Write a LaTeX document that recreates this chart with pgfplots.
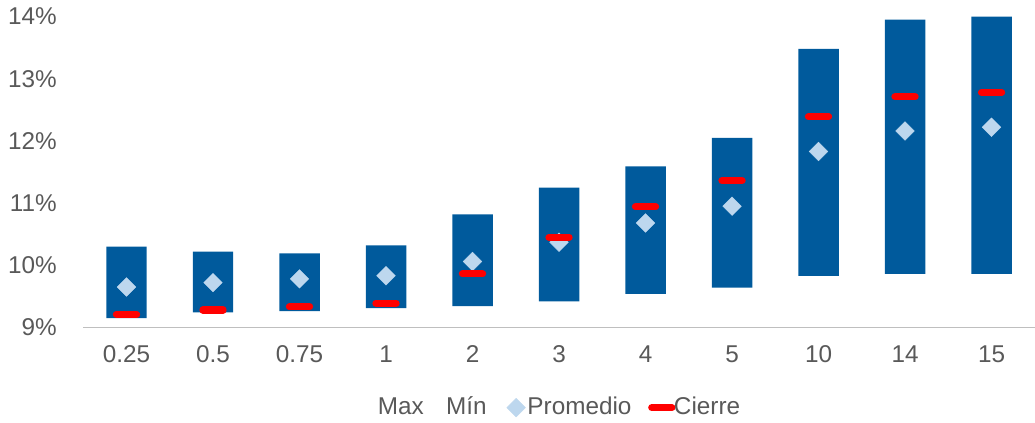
\documentclass[border=0pt]{standalone}
\usepackage{pgfplots}
\usepackage{pgfplotstable}
\pgfplotsset{compat=1.18}
\usepackage{fontspec}
\setmainfont{Liberation Sans}
\definecolor{barblue}{HTML}{005A9C}
\definecolor{diam}{HTML}{BDD7EE}
\definecolor{txt}{HTML}{595959}
\pgfplotstableread{
x min max prom cierre
0 9.15 10.30 9.65 9.21
1 9.24 10.22 9.72 9.28
2 9.26 10.19 9.78 9.33
3 9.31 10.32 9.83 9.39
4 9.34 10.82 10.06 9.86
5 9.42 11.25 10.37 10.45
6 9.54 11.59 10.68 10.94
7 9.64 12.05 10.95 11.36
8 9.83 13.48 11.83 12.39
9 9.86 13.95 12.16 12.71
10 9.86 14.00 12.22 12.78
}\data
\begin{document}
\fontsize{24}{28}\selectfont
\begin{tikzpicture}
\begin{axis}[
  scale only axis, width=940pt, height=307pt,
  xmin=-0.5, xmax=10.5, ymin=9, ymax=14,
  xtick={0,...,10},
  xticklabels={0.25,0.5,0.75,1,2,3,4,5,10,14,15},
  ytick={9,...,14},
  yticklabel={\pgfmathprintnumber{\tick}\%},
  /pgf/number format/assume math mode=true,
  tick label style={font=\fontsize{24}{28}\selectfont, text=txt},
  axis y line*=left,
  y axis line style={draw=none},
  axis x line*=bottom,
  x axis line style={draw=gray!50, -},
  major tick length=0pt,
  xticklabel style={yshift=-10pt},
  yticklabel style={xshift=-18pt},
  ybar stacked, bar width=40pt,
  clip=false,
]
\addplot[fill=none, draw=none, forget plot] table[x=x,y=min]{\data};
\addplot[fill=barblue, draw=none] table[x=x,y expr=\thisrow{max}-\thisrow{min}]{\data};
\end{axis}
\begin{axis}[
  scale only axis, width=940pt, height=307pt,
  xmin=-0.5, xmax=10.5, ymin=9, ymax=14,
  axis lines=none, clip=false,
  legend style={draw=none, at={(0.5,-0.21)}, anchor=north, legend columns=4,
    font=\fontsize{24}{28}\selectfont, text=txt, /tikz/every even column/.append style={column sep=18pt}},
]
\addlegendimage{empty legend}\addlegendentry{Max}
\addlegendimage{empty legend}\addlegendentry{Mín}
\addplot[only marks, mark=square*, mark size=6.5pt, color=diam, mark options={rotate=45}] table[x=x,y=prom]{\data};
\addlegendentry{Promedio}
\addplot[only marks, mark=-, mark size=10pt, color=red, mark options={line width=7pt, line cap=round}] table[x=x,y=cierre]{\data};
\addlegendentry{Cierre}
\end{axis}
\end{tikzpicture}
\end{document}
